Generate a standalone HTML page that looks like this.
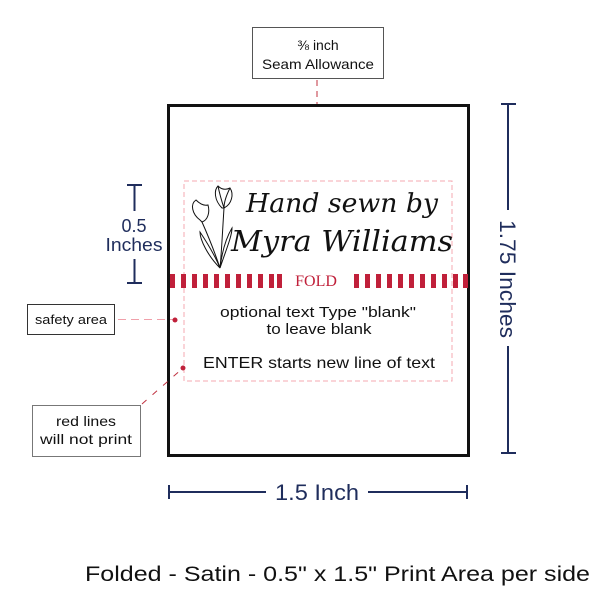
<!DOCTYPE html>
<html><head><style>
body{margin:0;background:#fff;}
svg{display:block;font-family:"Liberation Sans",sans-serif;}
</style></head><body>
<svg width="600" height="600" viewBox="0 0 600 600">
<rect width="600" height="600" fill="#fff"/>
<rect x="252.5" y="27.5" width="131" height="51" fill="#fff" stroke="#555" stroke-width="1"/>
<text x="318" y="50" font-size="14" text-anchor="middle" fill="#111">⅜ inch</text>
<text x="318" y="69" font-size="14" text-anchor="middle" fill="#111" textLength="112" lengthAdjust="spacingAndGlyphs">Seam Allowance</text>
<line x1="317" y1="80" x2="317" y2="157" stroke="#c0303f" stroke-width="1" stroke-dasharray="6,5"/>
<circle cx="317" cy="157" r="2.5" fill="#c0203a"/>
<rect x="168.5" y="105.5" width="300" height="350" fill="#fff" stroke="#111" stroke-width="3"/>
<rect x="184" y="181" width="268" height="200" fill="none" stroke="#f4a8b2" stroke-width="1" stroke-dasharray="5,3"/>
<g fill="#c0203a">
<rect x="170" y="274" width="5" height="14"/><rect x="181" y="274" width="5" height="14"/><rect x="192" y="274" width="5" height="14"/><rect x="203" y="274" width="5" height="14"/><rect x="214" y="274" width="5" height="14"/><rect x="225" y="274" width="5" height="14"/><rect x="236" y="274" width="5" height="14"/><rect x="247" y="274" width="5" height="14"/><rect x="258" y="274" width="5" height="14"/><rect x="269" y="274" width="5" height="14"/><rect x="277" y="274" width="5" height="14"/>
<rect x="354" y="274" width="5" height="14"/><rect x="365" y="274" width="5" height="14"/><rect x="376" y="274" width="5" height="14"/><rect x="387" y="274" width="5" height="14"/><rect x="398" y="274" width="5" height="14"/><rect x="409" y="274" width="5" height="14"/><rect x="420" y="274" width="5" height="14"/><rect x="431" y="274" width="5" height="14"/><rect x="442" y="274" width="5" height="14"/><rect x="453" y="274" width="5" height="14"/><rect x="463" y="274" width="5" height="14"/>
</g>
<text x="316" y="286" font-family="Liberation Serif,serif" font-size="16" text-anchor="middle" fill="#c0203a">FOLD</text>
<g fill="none" stroke="#111" stroke-width="1">
<path d="M222 208 C214 200 214 190 218 186 C222 190 226 190 230 188 C234 194 232 204 224 208 Z"/>
<path d="M218 186 C220 196 222 202 224 208 M230 188 C226 196 224 202 224 208"/>
<path d="M200 220 C192 214 190 204 196 200 C200 204 204 206 208 205 C210 212 208 220 202 222 Z"/>
<path d="M224 208 C222 240 221 260 220 268 M202 222 C210 240 216 256 220 268"/>
<path d="M220 268 C208 256 200 240 200 232 C208 244 216 258 220 268 Z"/>
<path d="M220 268 C226 250 232 236 232 228 C226 238 222 252 220 268 Z"/>
</g>
<text x="246" y="212" font-family="DejaVu Serif,serif" font-style="italic" font-size="26" fill="#111" textLength="192" lengthAdjust="spacingAndGlyphs">Hand sewn by</text>
<text x="231" y="251" font-family="DejaVu Serif,serif" font-style="italic" font-size="29" fill="#111" textLength="222" lengthAdjust="spacingAndGlyphs">Myra Williams</text>
<text x="318" y="317" font-size="15" text-anchor="middle" fill="#111" textLength="196" lengthAdjust="spacingAndGlyphs">optional text  Type "blank"</text>
<text x="319" y="334" font-size="15" text-anchor="middle" fill="#111" textLength="105" lengthAdjust="spacingAndGlyphs">to leave blank</text>
<text x="319" y="368" font-size="16" text-anchor="middle" fill="#111" textLength="232" lengthAdjust="spacingAndGlyphs">ENTER starts  new line of text</text>
<g stroke="#1f2d5c" stroke-width="2" fill="none">
<line x1="127" y1="185" x2="142" y2="185"/><line x1="134.5" y1="185" x2="134.5" y2="211"/>
<line x1="127" y1="283" x2="142" y2="283"/><line x1="134.5" y1="259" x2="134.5" y2="283"/>
</g>
<text x="134" y="232" font-size="18" text-anchor="middle" fill="#1f2d5c">0.5</text>
<text x="134" y="251" font-size="18" text-anchor="middle" fill="#1f2d5c" textLength="57" lengthAdjust="spacingAndGlyphs">Inches</text>
<rect x="27.5" y="304.5" width="87" height="30" fill="#fff" stroke="#333"/>
<text x="71" y="324" font-size="13" text-anchor="middle" fill="#111" textLength="72" lengthAdjust="spacingAndGlyphs">safety area</text>
<line x1="118" y1="319.5" x2="173" y2="319.5" stroke="#f0a0aa" stroke-dasharray="8,5"/>
<circle cx="175" cy="320" r="2.5" fill="#c0203a"/>
<rect x="32.5" y="405.5" width="108" height="51" fill="#fff" stroke="#777"/>
<text x="86" y="426" font-size="14" text-anchor="middle" fill="#111" textLength="60" lengthAdjust="spacingAndGlyphs">red lines</text>
<text x="86" y="444" font-size="14" text-anchor="middle" fill="#111" textLength="92" lengthAdjust="spacingAndGlyphs">will not print</text>
<line x1="142" y1="404" x2="183" y2="368" stroke="#c0303f" stroke-dasharray="6,8"/>
<circle cx="183" cy="368" r="2.5" fill="#c0203a"/>
<g stroke="#1f2d5c" stroke-width="2">
<line x1="501" y1="104" x2="516" y2="104"/><line x1="508" y1="104" x2="508" y2="210"/>
<line x1="508" y1="346" x2="508" y2="453"/><line x1="501" y1="453" x2="516" y2="453"/>
</g>
<text x="0" y="0" transform="translate(500,279) rotate(90)" font-size="22" text-anchor="middle" fill="#1f2d5c" textLength="118" lengthAdjust="spacingAndGlyphs">1.75 Inches</text>
<g stroke="#1f2d5c" stroke-width="2">
<line x1="169" y1="485" x2="169" y2="499"/><line x1="169" y1="492" x2="266" y2="492"/>
<line x1="368" y1="492" x2="467" y2="492"/><line x1="467" y1="485" x2="467" y2="499"/>
</g>
<text x="317" y="500" font-size="22" text-anchor="middle" fill="#1f2d5c" textLength="84" lengthAdjust="spacingAndGlyphs">1.5 Inch</text>
<text x="85" y="581" font-size="21" fill="#111" textLength="505" lengthAdjust="spacingAndGlyphs">Folded - Satin - 0.5" x 1.5" Print Area per side</text>
</svg>
</body></html>
